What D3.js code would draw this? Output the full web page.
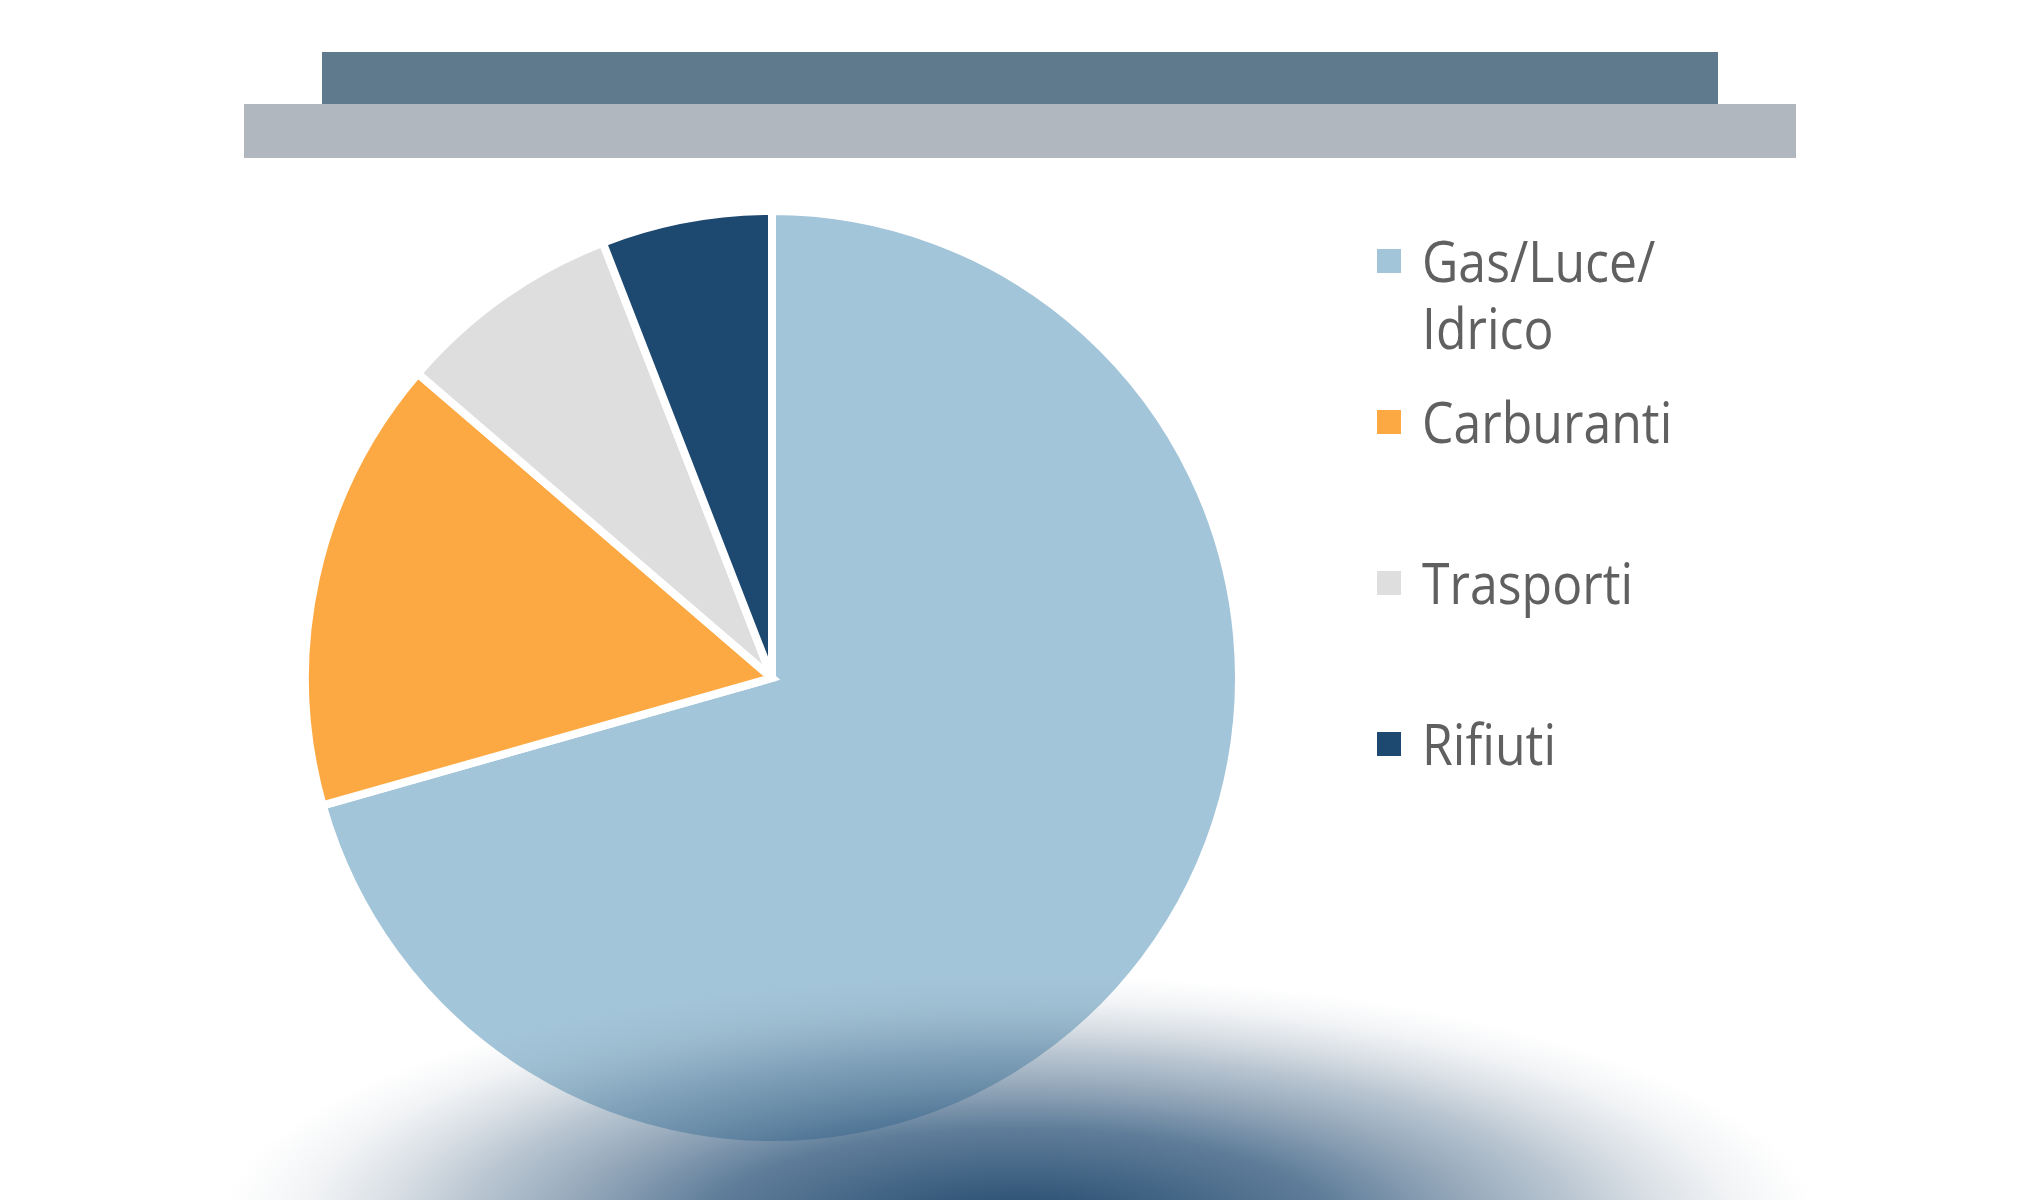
<!DOCTYPE html>
<html>
<head>
<meta charset="utf-8">
<script src="https://cdn.jsdelivr.net/npm/d3@7"></script>
<style>
  body { margin: 0; background: #fff; }
  svg { display: block; }
</style>
</head>
<body>
<div class="container"></div>
<script>
const categories = ["Gas/Luce/Idrico", "Carburanti", "Trasporti", "Rifiuti"];
const values = [70.6, 15.7, 7.8, 5.9];
const colors = ["#A3C5D9", "#FDA943", "#DEDEDE", "#1D4870"];

const w = 2040;
const h = 1200;
const cx = 772;
const cy = 678;
const radius = 467;

const svg = d3.select(".container")
              .append("svg")
              .attr("width", w)
              .attr("height", h);

const defs = svg.append("defs");

// shadow under the pie
const grad = defs.append("radialGradient")
                 .attr("id", "shadow")
                 .attr("cx", 0.5)
                 .attr("cy", 0.5)
                 .attr("r", 0.5);
grad.append("stop").attr("offset", 0).attr("stop-color", "#1D4468").attr("stop-opacity", 1);
grad.append("stop").attr("offset", 0.4).attr("stop-color", "#2A5278").attr("stop-opacity", 0.75);
grad.append("stop").attr("offset", 0.7).attr("stop-color", "#4A6A88").attr("stop-opacity", 0.38);
grad.append("stop").attr("offset", 0.9).attr("stop-color", "#7A8CA0").attr("stop-opacity", 0.1);
grad.append("stop").attr("offset", 1).attr("stop-color", "#8A9AAA").attr("stop-opacity", 0);

// header bars
svg.append("rect")
   .attr("x", 322).attr("y", 52)
   .attr("width", 1396).attr("height", 53)
   .attr("fill", "#5E7A8C");
svg.append("rect")
   .attr("x", 244).attr("y", 104)
   .attr("width", 1552).attr("height", 54)
   .attr("fill", "#B0B7BE");

// pie
const pie = d3.pie().sort(null).value(d => d.value);
const arc = d3.arc().innerRadius(0).outerRadius(radius);

const dataset = categories.map((c, i) => ({ name: c, value: values[i], color: colors[i] }));

svg.append("g")
   .attr("transform", "translate(" + cx + "," + cy + ")")
   .selectAll("path")
   .data(pie(dataset))
   .enter()
   .append("path")
   .attr("d", arc)
   .attr("fill", d => d.data.color)
   .attr("stroke", "#fff")
   .attr("stroke-width", 8)
   .attr("stroke-linejoin", "miter");

svg.append("rect")
   .attr("x", 220).attr("y", 975)
   .attr("width", 1600).attr("height", 510)
   .attr("fill", "url(#shadow)");

// legend
const legendY = d3.scalePoint()
                  .domain(categories)
                  .range([261, 744]);

const legend = svg.append("g")
                  .selectAll("g")
                  .data(dataset)
                  .enter()
                  .append("g")
                  .attr("transform", d => "translate(1377," + legendY(d.name) + ")");

legend.append("rect")
      .attr("x", 0).attr("y", -12)
      .attr("width", 24).attr("height", 24)
      .attr("fill", d => d.color);

const splitLabel = (s) => {
    const k = s.lastIndexOf("/");
    if (s.length > 12 && k > 0) return [s.slice(0, k + 1), s.slice(k + 1)];
    return [s];
};

legend.append("text")
      .attr("transform", "translate(45,21) scale(1,1.12)")
      .attr("font-family", "'Open Sans', sans-serif")
      .attr("font-size", 50)
      .attr("fill", "#606060")
      .selectAll("tspan")
      .data(d => splitLabel(d.name))
      .enter()
      .append("tspan")
      .attr("x", 0)
      .attr("y", (d, i) => i * 60)
      .text(d => d);
</script>
</body>
</html>
